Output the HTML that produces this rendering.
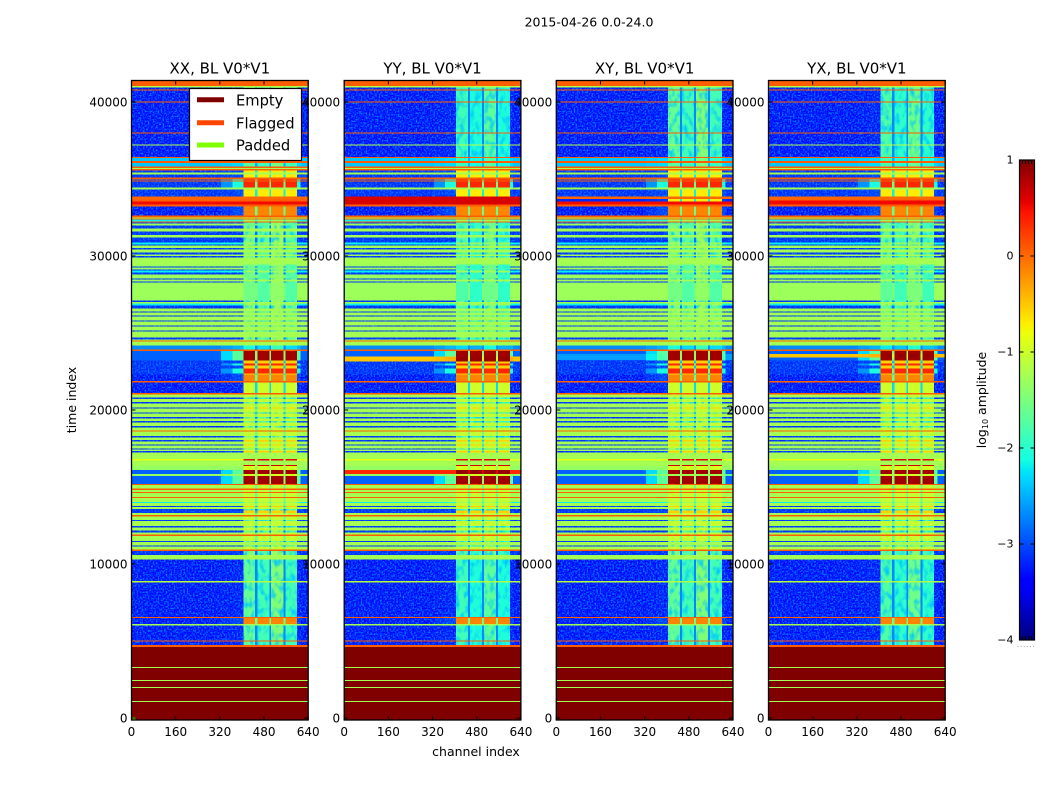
<!DOCTYPE html>
<html>
<head>
<meta charset="utf-8">
<title>2015-04-26 0.0-24.0</title>
<style>
html,body{margin:0;padding:0;background:#fff;width:1050px;height:800px;overflow:hidden}
svg{display:block}
text{font-family:"DejaVu Sans","Liberation Sans",sans-serif;fill:#000}
.t{font-size:12px}
.title{font-size:15px;text-anchor:middle}
.lab{font-size:12.5px}
</style>
</head>
<body>
<svg id="fig" xmlns="http://www.w3.org/2000/svg" width="1050" height="800" viewBox="0 0 1050 800">
  <defs>
    <filter id="speckle" x="0" y="0" width="100%" height="100%" color-interpolation-filters="sRGB">
      <feTurbulence type="fractalNoise" baseFrequency="0.62" numOctaves="1" seed="4" result="n"/>
      <feColorMatrix in="n" type="matrix" values="0 0 0 0 0  0 0 0 0 0.5  0 0 0 0 1  3.4 0 0 0 -1.45" result="c"/>
      <feComposite in="c" in2="SourceAlpha" operator="in"/>
    </filter>
    <filter id="mottle" x="0" y="0" width="100%" height="100%" color-interpolation-filters="sRGB">
      <feTurbulence type="fractalNoise" baseFrequency="0.2 0.12" numOctaves="2" seed="9" result="n"/>
      <feColorMatrix in="n" type="matrix" values="0 0 0 0 0  0 0 0 0 0.78  0 0 0 0 1  2.6 0 0 0 -1.15" result="c"/>
      <feComposite in="c" in2="SourceAlpha" operator="in"/>
    </filter>
  </defs>
  <text x="589" y="26.5" text-anchor="middle" style="font-size:12.5px">2015-04-26 0.0-24.0</text>
  <text class="lab" transform="translate(76,400) rotate(-90)" text-anchor="middle">time index</text>
  <text class="lab" x="476" y="756" text-anchor="middle">channel index</text>
  <g id="panels"></g>
  <g>
    <rect x="189.5" y="88.5" width="112" height="72" fill="#fff" stroke="#000" stroke-width="1.2"/>
    <line x1="197" x2="224" y1="99.7" y2="99.7" stroke="#800000" stroke-width="5"/>
    <text x="236" y="105.5" style="font-size:14.7px">Empty</text>
    <line x1="197" x2="224" y1="122.7" y2="122.7" stroke="#ff4500" stroke-width="5"/>
    <text x="236" y="128.5" style="font-size:14.7px">Flagged</text>
    <line x1="197" x2="224" y1="145" y2="145" stroke="#7fff00" stroke-width="5"/>
    <text x="236" y="150.5" style="font-size:14.7px">Padded</text>
  </g>
  <g id="cbar"></g>
  <text class="lab" transform="translate(986,400) rotate(-90)" text-anchor="middle">log<tspan font-size="8" dy="2">10</tspan><tspan dy="-2"> amplitude</tspan></text>
  <text x="1017" y="647" style="font-size:6px;letter-spacing:1.2px;fill:#555">......</text>
</svg>
<script>
// ---- chart data (time index / channel index / log10 amplitude) ----
const panelTitles = ['XX, BL V0*V1', 'YY, BL V0*V1', 'XY, BL V0*V1', 'YX, BL V0*V1'];
const xTicks = [0, 160, 320, 480, 640];
const yTicks = [0, 10000, 20000, 30000, 40000];
const cbarTicks = [1, 0, -1, -2, -3, -4];

// channel boundaries of the image columns and which level each column uses
const channelEdges = [0, 325, 365, 405, 448, 456, 499, 506, 550, 557, 600, 612, 640];
const columnRoles = ['bg', 'sm', 'sh', 'bk', 'gp', 'bk', 'gp', 'bk', 'gp', 'bk', 'sh', 'bg'];
const blockTrim = [0, 0, 0, 0, 0, -0.2, 0, 0.18, 0, -0.2, 0, 0];

// row kinds: log10 amplitude in background, shoulder, bandpass block and gap
const kindCodes    = ['E','F','P','N','O','S','B','G','C','Y','D','K','T','U','M','R','W','V','A','H','Z','L','J','I','X','Q','q'];
const bgLevels     = [1,0.05,-1.25,-3.35,-3.35,-1.15,-3.2,-1.25,-2.2,-3.2,-2.9,-1.35,-1.25,-0.85,-3.35,-3.2,-2.7,-1.3,0,0.5,-3.2,-2.4,-0.5,0.35,0.62,-2.6,-1.7];
const shLevels     = [1,0.05,-1.25,-3.3,-3.1,-1.15,-3.2,-1.25,-2.1,-3.1,-1.7,-1.35,-1.25,-0.85,-3.3,-2.1,-2.5,-1.3,0,0.5,-3.1,-2.3,-0.4,0.35,0.62,-1.8,-1.4];
const blockLevels  = [1,0.05,-1.25,-1.65,-0.15,-1.15,-1.5,-1.05,-1.3,-0.55,0.85,-0.95,0.65,0.6,-1,0.35,-2.1,-1.55,0,0.5,-0.7,-1.7,0.9,0.9,0.62,0.85,-1.25];
const gapLevels    = [1,0.05,-1.25,-2.7,-1.6,-1.15,-2.8,-1.6,-2,-2.4,-1.4,-1.3,-1.25,-0.9,-2.3,-1.6,-2.7,-1.5,0,0.5,-2.2,-2.5,-1,0.6,0.62,-1.4,-1.4];

// rows from bottom to top: [upper time index, kind]
const firstRowStart = -130;
const rows = [
[1053,'E'],[1118,'P'],[1963,'E'],[2028,'P'],[2418,'E'],[2483,'P'],[3263,'E'],[3328,'P'],[4615,'E'],[4745,'F'],
[4973,'N'],[5038,'F'],[6013,'N'],[6090,'P'],[6500,'O'],[6565,'F'],[8808,'N'],[8886,'S'],[10303,'N'],[10595,'P'],
[10855,'B'],[10953,'F'],[11148,'G'],[11213,'B'],[11440,'P'],[11505,'B'],[11830,'G'],[11928,'F'],[12058,'G'],[12188,'B'],
[12383,'G'],[12480,'B'],[12805,'G'],[12870,'B'],[13098,'G'],[13195,'F'],[13325,'G'],[13488,'Y'],[13585,'B'],[13715,'G'],
[13780,'Y'],[13975,'G'],[14040,'C'],[14300,'G'],[14365,'F'],[14625,'G'],[14690,'F'],[14820,'G'],[14918,'F'],[15130,'G'],
[15210,'F'],[15730,'D'],[15860,'K'],[16088,'D'],[16348,'K'],[16413,'T'],[16705,'P'],[16803,'U'],[17225,'P'],[17323,'Y'],
[17420,'G'],[17485,'B'],[17680,'G'],[17745,'Y'],[17940,'G'],[18038,'Y'],[18200,'G'],[18298,'B'],[18590,'G'],[18655,'F'],
[18850,'G'],[18948,'B'],[19175,'G'],[19273,'B'],[19435,'G'],[19533,'B'],[19760,'G'],[19825,'B'],[20085,'G'],[20150,'Y'],
[20410,'G'],[20508,'B'],[20703,'G'],[20800,'B'],[20995,'G'],[21093,'F'],[21775,'M'],[21873,'F'],[22295,'O'],[22360,'Y'],
[22685,'R'],[22880,'Y'],[23010,'R'],[23205,'Y'],[23823,'D'],[23920,'F'],[24180,'W'],[24440,'P'],[24505,'F'],[24570,'P'],
[24700,'B'],[25090,'P'],[25155,'B'],[25415,'P'],[25480,'B'],[25740,'P'],[25805,'B'],[26065,'P'],[26130,'B'],[26325,'P'],
[26390,'B'],[26585,'P'],[26780,'B'],[26910,'C'],[27008,'P'],[27105,'B'],[28275,'V'],[28340,'B'],[28470,'P'],[28535,'B'],
[28795,'V'],[28925,'B'],[29055,'C'],[29120,'B'],[29250,'V'],[29315,'B'],[29445,'V'],[29900,'P'],[29998,'B'],[30095,'P'],
[30225,'B'],[30420,'P'],[30518,'B'],[30680,'P'],[30745,'B'],[30875,'C'],[31005,'B'],[31200,'B'],[31363,'P'],[31590,'B'],
[31785,'P'],[31980,'B'],[32110,'V'],[32175,'B'],[32240,'F'],[32370,'C'],[32435,'F'],[32500,'G'],[32630,'F'],[33215,'O'],
[33345,'F'],[33540,'H'],[33670,'F'],[33865,'A'],[34320,'Z'],[34450,'P'],[34840,'R'],[34905,'F'],[34970,'R'],[35100,'F'],
[35295,'Z'],[35425,'P'],[35555,'Z'],[35653,'F'],[35718,'P'],[35815,'F'],[36043,'L'],[36173,'F'],[36368,'L'],[36433,'F'],
[37180,'N'],[37245,'S'],[37960,'N'],[38025,'F'],[39975,'N'],[40040,'F'],[40755,'N'],[40820,'F'],[40950,'N'],[41048,'S'],[41405,'F']
];

// per-baseline differences painted over the shared rows: [from, to, kind]
const patchesXX = [];
const patchesYY = [[23140,23465,'J'],[15860,16120,'I'],[33345,33865,'X'],[15210,15730,'D']];
const patchesXY = [[23250,23650,'Q'],[15730,15860,'q'],[33540,33700,'Z'],[23860,23920,'F']];
const patchesYX = [[23400,23650,'J'],[33345,33600,'H']];
const panelPatches = [patchesXX, patchesYY, patchesXY, patchesYX];
const panelBlockShift = [0, -0.22, 0, -0.12];

// small padded spot in the first panel's corner: [channel from, channel to, time from, time to]
const cornerSpot = [4, 14, -130, 60];

// ---- axes geometry ----
const panelLeft = [131.5, 344.2, 556.3, 768.5];
const panelWidth = 176.7;
const axTop = 80.5, axBottom = 720;
const xMax = 640;
const yOf = t => 718 - t * 0.0154;
const NS = 'http://www.w3.org/2000/svg';

function jet(v) {
  const t = Math.min(1, Math.max(0, (v + 4) / 5));
  const seg = (pts) => {
    for (let i = 1; i < pts.length; i++) {
      if (t <= pts[i][0]) {
        const a = pts[i - 1], b = pts[i];
        return a[1] + (b[1] - a[1]) * (t - a[0]) / (b[0] - a[0] || 1);
      }
    }
    return pts[pts.length - 1][1];
  };
  const r = seg([[0,0],[0.35,0],[0.66,1],[0.89,1],[1,0.5]]);
  const g = seg([[0,0],[0.125,0],[0.375,1],[0.64,1],[0.91,0],[1,0]]);
  const b = seg([[0,0.5],[0.11,1],[0.34,1],[0.65,0],[1,0]]);
  return 'rgb(' + Math.round(r * 255) + ',' + Math.round(g * 255) + ',' + Math.round(b * 255) + ')';
}

function levelFor(kindIdx, role, col, p) {
  if (role === 'bg') return bgLevels[kindIdx];
  if (role === 'sh') return shLevels[kindIdx];
  if (role === 'sm') return (bgLevels[kindIdx] + shLevels[kindIdx]) / 2;
  if (role === 'gp') return gapLevels[kindIdx];
  let v = blockLevels[kindIdx];
  if (v < -1.3) v += blockTrim[col] + panelBlockShift[p];
  return v;
}

function mkText(parent, cls, x, y, anchor, str) {
  const el = document.createElementNS(NS, 'text');
  el.setAttribute('class', cls);
  el.setAttribute('x', x);
  el.setAttribute('y', y);
  el.setAttribute('text-anchor', anchor);
  el.textContent = str;
  parent.appendChild(el);
  return el;
}

function mkLine(parent, x1, y1, x2, y2) {
  const el = document.createElementNS(NS, 'line');
  el.setAttribute('x1', x1);
  el.setAttribute('y1', y1);
  el.setAttribute('x2', x2);
  el.setAttribute('y2', y2);
  el.setAttribute('stroke', '#000');
  el.setAttribute('stroke-width', '1');
  parent.appendChild(el);
  return el;
}

const panelsG = document.getElementById('panels');

panelTitles.forEach((title, p) => {
  const left = panelLeft[p];
  const xOf = c => left + c / xMax * panelWidth;
  const g = document.createElementNS(NS, 'g');
  
  
  panelsG.appendChild(g);

  const clipId = 'clip' + p;
  const clip = document.createElementNS(NS, 'clipPath');
  clip.setAttribute('id', clipId);
  const cr = document.createElementNS(NS, 'rect');
  cr.setAttribute('x', left);
  cr.setAttribute('y', axTop);
  cr.setAttribute('width', panelWidth);
  cr.setAttribute('height', axBottom - axTop);
  clip.appendChild(cr);
  g.appendChild(clip);

  const img = document.createElementNS(NS, 'g');
  img.setAttribute('clip-path', 'url(#' + clipId + ')');
  img.setAttribute('shape-rendering', 'crispEdges');
  
  
  g.appendChild(img);

  const lower = document.createElementNS(NS, 'g');
  
  
  img.appendChild(lower);

  const noise = document.createElementNS(NS, 'g');
  noise.setAttribute('filter', 'url(#speckle)');
  
  
  img.appendChild(noise);

  const mottle = document.createElementNS(NS, 'g');
  mottle.setAttribute('filter', 'url(#mottle)');
  
  
  img.appendChild(mottle);

  const upper = document.createElementNS(NS, 'g');
  
  
  img.appendChild(upper);

  const paint = (t0, t1, code, isPatch) => {
    const k = kindCodes.indexOf(code);
    const noisy = !isPatch && bgLevels[k] <= -3;
    const target = noisy ? lower : upper;
    const yTop = yOf(t1), yBot = yOf(t0);
    for (let c = 0; c < columnRoles.length; c++) {
      const rect = document.createElementNS(NS, 'rect');
      const x0 = xOf(channelEdges[c]), x1 = xOf(channelEdges[c + 1]);
      rect.setAttribute('x', x0.toFixed(2));
      rect.setAttribute('y', yTop.toFixed(2));
      rect.setAttribute('width', (x1 - x0).toFixed(2));
      rect.setAttribute('height', (yBot - yTop).toFixed(2));
      rect.setAttribute('fill', jet(levelFor(k, columnRoles[c], c, p)));
      
      
      target.appendChild(rect);
      if (noisy) {
        const role = columnRoles[c];
        const cellLevel = levelFor(k, role, c, p);
        if ((role === 'bg' || role === 'sh' || role === 'sm') && cellLevel <= -2.9) {
          const sp = document.createElementNS(NS, 'rect');
          sp.setAttribute('x', x0.toFixed(2));
          sp.setAttribute('y', yTop.toFixed(2));
          sp.setAttribute('width', (x1 - x0).toFixed(2));
          sp.setAttribute('height', (yBot - yTop).toFixed(2));
          
          
          noise.appendChild(sp);
        } else if (role === 'bk' && blockLevels[k] < -1.3) {
          const mt = document.createElementNS(NS, 'rect');
          mt.setAttribute('x', x0.toFixed(2));
          mt.setAttribute('y', yTop.toFixed(2));
          mt.setAttribute('width', (x1 - x0).toFixed(2));
          mt.setAttribute('height', (yBot - yTop).toFixed(2));
          
          
          mottle.appendChild(mt);
        }
      }
    }
  };

  let prev = firstRowStart;
  rows.forEach(r => { paint(prev, r[0], r[1], false); prev = r[0]; });
  panelPatches[p].forEach(r => paint(r[0], r[1], r[2], true));

  if (p === 0) {
    const spot = document.createElementNS(NS, 'rect');
    spot.setAttribute('x', xOf(cornerSpot[0]).toFixed(2));
    spot.setAttribute('y', yOf(cornerSpot[3]).toFixed(2));
    spot.setAttribute('width', (xOf(cornerSpot[1]) - xOf(cornerSpot[0])).toFixed(2));
    spot.setAttribute('height', (yOf(cornerSpot[2]) - yOf(cornerSpot[3])).toFixed(2));
    spot.setAttribute('fill', '#7fe000');
    
    
    upper.appendChild(spot);
  }

  const frame = document.createElementNS(NS, 'rect');
  frame.setAttribute('x', left);
  frame.setAttribute('y', axTop);
  frame.setAttribute('width', panelWidth);
  frame.setAttribute('height', axBottom - axTop);
  frame.setAttribute('fill', 'none');
  frame.setAttribute('stroke', '#000');
  frame.setAttribute('stroke-width', '1.3');
  
  
  g.appendChild(frame);

  xTicks.forEach(v => {
    const x = xOf(v);
    const a = mkLine(g, x, axBottom, x, axBottom - 4);
    
    
    const b = mkLine(g, x, axTop, x, axTop + 4);
    
    
    const lbl = mkText(g, 't', x, 736, 'middle', String(v));
    
    
  });
  yTicks.forEach(v => {
    const y = yOf(v);
    const a = mkLine(g, left, y, left + 4, y);
    
    
    const b = mkLine(g, left + panelWidth, y, left + panelWidth - 4, y);
    
    
    const lbl = mkText(g, 't', left - 4, y + 4.5, 'end', String(v));
    
    
  });
  const ttl = mkText(g, 'title', left + panelWidth / 2, 73.5, 'middle', title);
  
  
});

// ---- colour bar ----
const cbG = document.getElementById('cbar');
const cbLeft = 1019.5, cbWidth = 15, cbTop = 160, cbBottom = 640;
const cbY = v => cbTop + (1 - v) / 5 * (cbBottom - cbTop);
for (let i = 0; i < 256; i++) {
  const v0 = -4 + i * 5 / 256, v1 = -4 + (i + 1) * 5 / 256;
  const r = document.createElementNS(NS, 'rect');
  r.setAttribute('x', cbLeft);
  r.setAttribute('y', cbY(v1).toFixed(2));
  r.setAttribute('width', cbWidth);
  r.setAttribute('height', (cbY(v0) - cbY(v1) + 0.4).toFixed(2));
  r.setAttribute('fill', jet(v0));
  
  
  cbG.appendChild(r);
}
const cbFrame = document.createElementNS(NS, 'rect');
cbFrame.setAttribute('x', cbLeft);
cbFrame.setAttribute('y', cbTop);
cbFrame.setAttribute('width', cbWidth);
cbFrame.setAttribute('height', cbBottom - cbTop);
cbFrame.setAttribute('fill', 'none');
cbFrame.setAttribute('stroke', '#000');
cbFrame.setAttribute('stroke-width', '1.2');


cbG.appendChild(cbFrame);
cbarTicks.forEach(v => {
  const y = cbY(v);
  const a = mkLine(cbG, cbLeft, y, cbLeft + 4, y);
  
  
  const b = mkLine(cbG, cbLeft + cbWidth, y, cbLeft + cbWidth - 4, y);
  
  
  const lbl = mkText(cbG, 't', 1013.5, y + 3.5, 'end', v < 0 ? '\u2212' + Math.abs(v) : String(v));
  lbl.style.fontSize = '11px';
  
  
});
[0.2, 0.4, 0.6, 0.8].forEach(f => {
  const x = cbLeft + f * cbWidth;
  const a = mkLine(cbG, x, cbBottom, x, cbBottom - 4);
  
  
  const b = mkLine(cbG, x, cbTop, x, cbTop + 4);
  
  
});
</script>
</body>
</html>
